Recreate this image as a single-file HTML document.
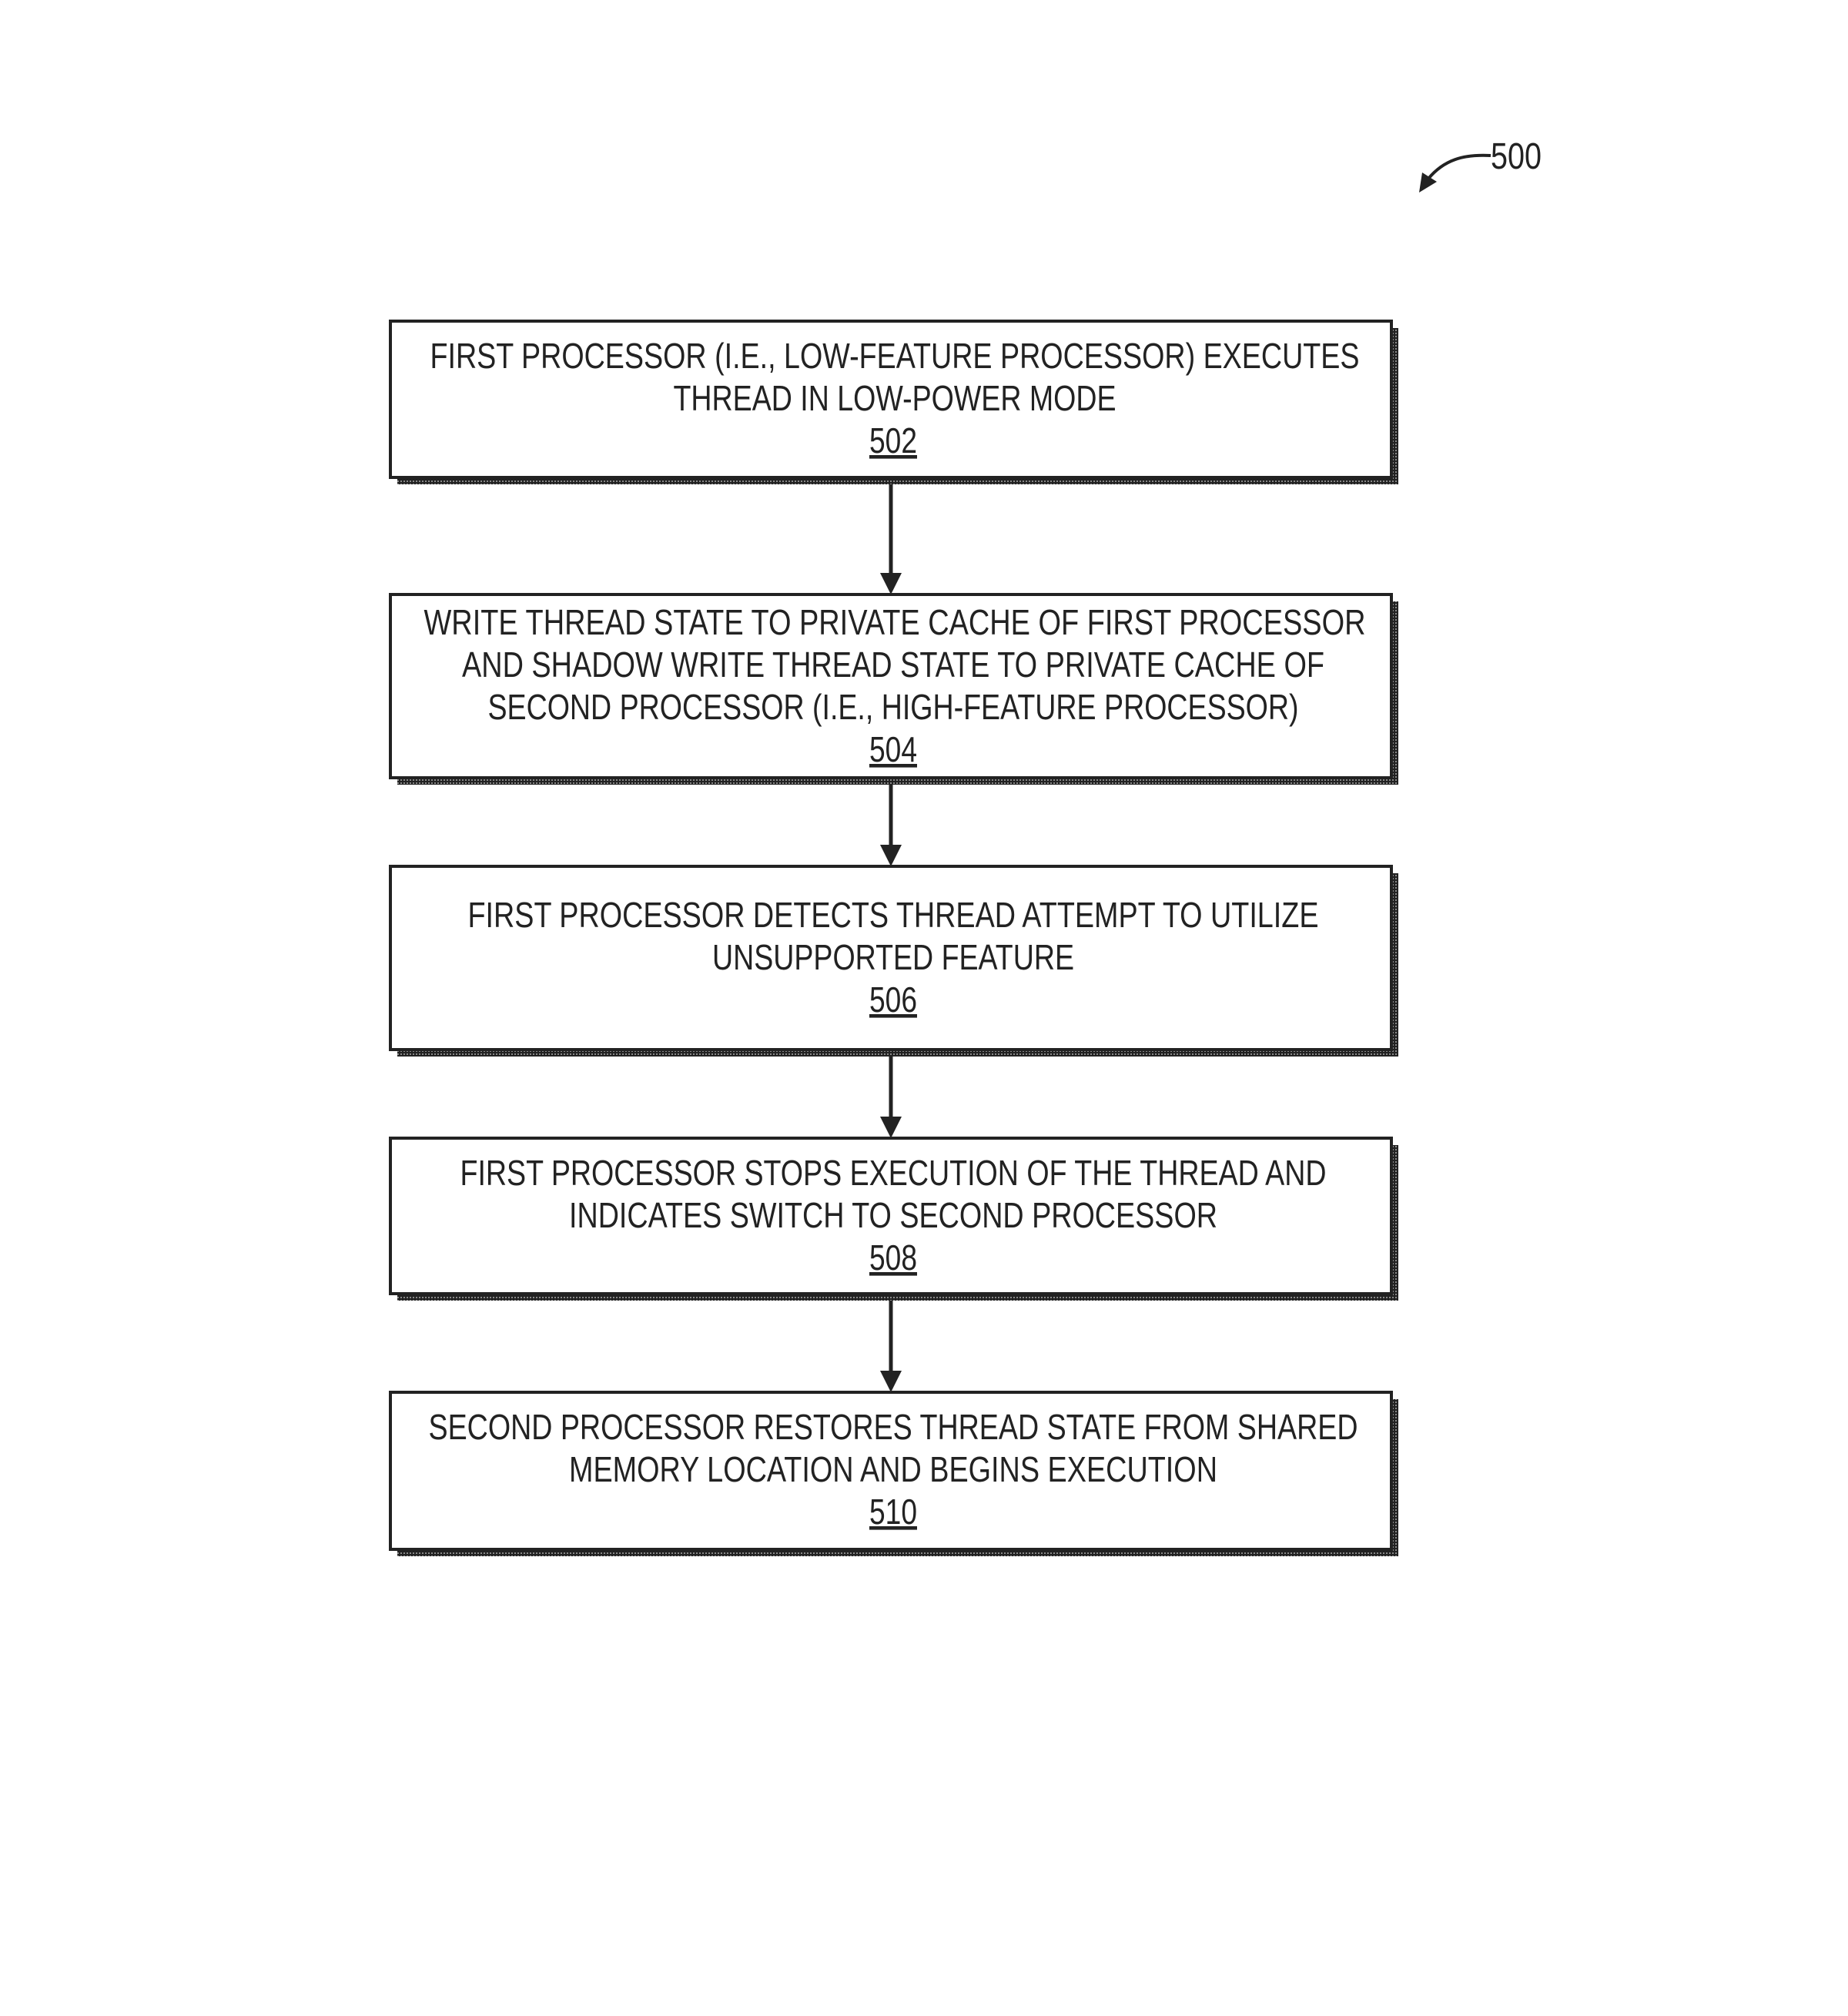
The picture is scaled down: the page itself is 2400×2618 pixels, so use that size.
<!DOCTYPE html>
<html><head><meta charset="utf-8"><style>html,body{margin:0;padding:0;background:#fff}svg{display:block}</style></head>
<body>
<svg width="2400" height="2618" viewBox="0 0 2400 2618" xmlns="http://www.w3.org/2000/svg" font-family="Liberation Sans, sans-serif" font-size="46" fill="#222">
<defs>
<pattern id="d" width="4" height="4" patternUnits="userSpaceOnUse"><rect width="4" height="4" fill="#222"/><rect width="2" height="2" fill="#888"/></pattern>
</defs>
<g stroke="none">
<rect x="516" y="426" width="1300" height="203" fill="url(#d)"/>
<rect x="516" y="781" width="1300" height="238" fill="url(#d)"/>
<rect x="516" y="1134" width="1300" height="238" fill="url(#d)"/>
<rect x="516" y="1487" width="1300" height="202" fill="url(#d)"/>
<rect x="516" y="1817" width="1300" height="204" fill="url(#d)"/>
</g>
<g fill="#fff" stroke="#222" stroke-width="4">
<rect x="507" y="417" width="1300" height="203"/>
<rect x="507" y="772" width="1300" height="238"/>
<rect x="507" y="1125" width="1300" height="238"/>
<rect x="507" y="1478" width="1300" height="202"/>
<rect x="507" y="1808" width="1300" height="204"/>
</g>
<g stroke="#222" stroke-width="5">
<line x1="1157" y1="629" x2="1157" y2="750"/>
<line x1="1157" y1="1019" x2="1157" y2="1103"/>
<line x1="1157" y1="1372" x2="1157" y2="1456"/>
<line x1="1157" y1="1689" x2="1157" y2="1786"/>
</g>
<g fill="#222">
<path d="M1143,744 L1171,744 L1157,772 Z"/>
<path d="M1143,1097 L1171,1097 L1157,1125 Z"/>
<path d="M1143,1450 L1171,1450 L1157,1478 Z"/>
<path d="M1143,1780 L1171,1780 L1157,1808 Z"/>
</g>
<g text-anchor="middle">
<text x="1162" y="478" textLength="1207" lengthAdjust="spacingAndGlyphs">FIRST PROCESSOR (I.E., LOW-FEATURE PROCESSOR) EXECUTES</text>
<text x="1162" y="533" textLength="575" lengthAdjust="spacingAndGlyphs">THREAD IN LOW-POWER MODE</text>
<text x="1160" y="588" textLength="62" lengthAdjust="spacingAndGlyphs" text-decoration="underline">502</text>
<text x="1162" y="824" textLength="1223" lengthAdjust="spacingAndGlyphs">WRITE THREAD STATE TO PRIVATE CACHE OF FIRST PROCESSOR</text>
<text x="1160" y="879" textLength="1120" lengthAdjust="spacingAndGlyphs">AND SHADOW WRITE THREAD STATE TO PRIVATE CACHE OF</text>
<text x="1160" y="934" textLength="1053" lengthAdjust="spacingAndGlyphs">SECOND PROCESSOR (I.E., HIGH-FEATURE PROCESSOR)</text>
<text x="1160" y="989" textLength="62" lengthAdjust="spacingAndGlyphs" text-decoration="underline">504</text>
<text x="1160" y="1204" textLength="1105" lengthAdjust="spacingAndGlyphs">FIRST PROCESSOR DETECTS THREAD ATTEMPT TO UTILIZE</text>
<text x="1160" y="1259" textLength="470" lengthAdjust="spacingAndGlyphs">UNSUPPORTED FEATURE</text>
<text x="1160" y="1314" textLength="62" lengthAdjust="spacingAndGlyphs" text-decoration="underline">506</text>
<text x="1160" y="1539" textLength="1125" lengthAdjust="spacingAndGlyphs">FIRST PROCESSOR STOPS EXECUTION OF THE THREAD AND</text>
<text x="1160" y="1594" textLength="842" lengthAdjust="spacingAndGlyphs">INDICATES SWITCH TO SECOND PROCESSOR</text>
<text x="1160" y="1649" textLength="62" lengthAdjust="spacingAndGlyphs" text-decoration="underline">508</text>
<text x="1160" y="1869" textLength="1207" lengthAdjust="spacingAndGlyphs">SECOND PROCESSOR RESTORES THREAD STATE FROM SHARED</text>
<text x="1160" y="1924" textLength="842" lengthAdjust="spacingAndGlyphs">MEMORY LOCATION AND BEGINS EXECUTION</text>
<text x="1160" y="1979" textLength="62" lengthAdjust="spacingAndGlyphs" text-decoration="underline">510</text>
</g>
<text x="1936" y="219" font-size="48" textLength="66" lengthAdjust="spacingAndGlyphs">500</text>
<path d="M1936,202 C1900,200 1875,208 1855,232" fill="none" stroke="#222" stroke-width="4"/>
<path d="M1843,250 L1847,224 L1866,236 Z" fill="#222"/>
</svg>
</body></html>
